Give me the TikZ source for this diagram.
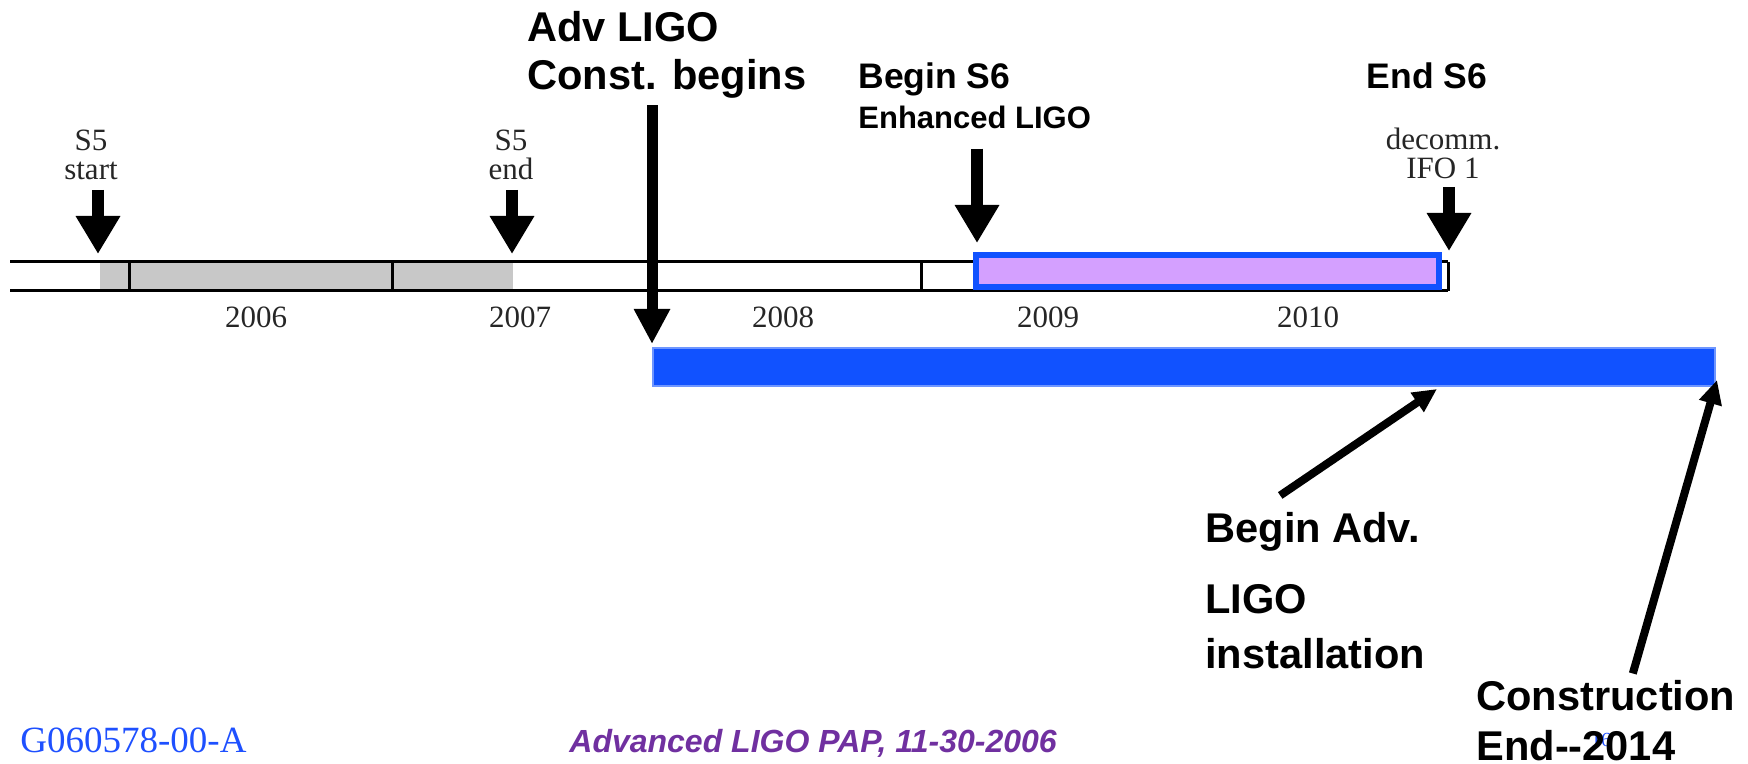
\documentclass[tikz,border=0pt]{standalone}
\usepackage{fontspec}
\setmainfont{Liberation Serif}
\setsansfont{Liberation Sans}
\usepackage{tikz}
\usetikzlibrary{arrows.meta,positioning,calc}
\definecolor{barblue}{RGB}{17,82,255}
\definecolor{baredge}{RGB}{110,150,255}
\definecolor{s6purple}{RGB}{212,160,255}
\definecolor{s5gray}{RGB}{200,200,200}
\definecolor{footblue}{RGB}{30,80,255}
\definecolor{footpurple}{RGB}{112,48,160}
\tikzset{
  tlline/.style={line width=1.5pt},
  tlyear/.style={font=\fontsize{15.5}{15}\selectfont, text=black!85, inner sep=0pt},
  tlnote/.style={font=\fontsize{15.5}{14.5}\selectfont, text=black!85, align=center, inner sep=0pt},
  tlbig/.style={font=\sffamily\bfseries\fontsize{20.8}{24}\selectfont, align=left, inner sep=0pt},
  tlmid/.style={font=\sffamily\bfseries\fontsize{17.75}{20}\selectfont, inner sep=0pt},
  tlsmall/.style={font=\sffamily\bfseries\fontsize{15.5}{18}\selectfont, inner sep=0pt},
  tlarrow/.style={-{Triangle[width=21pt,length=19pt]}, line width=6pt},
  tlbigarrow/.style={-{Triangle[width=17pt,length=17.5pt]}, line width=5.5pt},
  tlpointer/.style={-{Triangle[width=11pt,length=12pt]}, line width=4pt},
  s6box/.style={fill=s6purple, draw=barblue, line width=3pt},
  advbar/.style={fill=barblue, draw=baredge, line width=0.6pt}
}
\begin{document}
\begin{tikzpicture}[x=0.5pt,y=-0.5pt]
  \useasboundingbox (0,0) rectangle (1748,764);
  % timeline band with the S5 run shaded
  \fill[s5gray] (100,262) rectangle (513,291);
  \draw[tlline] (10,262) -- (1448,262);
  \draw[tlline] (10,291) -- (1448,291);
  \foreach \x in {129,392,655,921,1448}
    \draw[tlline] (\x,262) -- (\x,291);
  \foreach \yr/\x in {2006/256,2007/520,2008/783,2009/1048,2010/1308}
    \node[tlyear] (yr\yr) at (\x,317) {\yr};
  % S6 run and Adv LIGO installation
  \draw[s6box] (976,255) rectangle (1439,287);
  \draw[advbar] (653,348) rectangle (1715,386);
  % S5 markers
  \coordinate (s5starttip) at (98,254);
  \coordinate (s5endtip) at (512,254);
  \node[tlnote, anchor=south] (s5start) at (91,180) {S5\\start};
  \node[tlnote, anchor=south] (s5end) at (511,180) {S5\\end};
  \draw[tlarrow, shorten <=5pt] (s5start.south -| s5starttip) -- (s5starttip);
  \draw[tlarrow, shorten <=5pt] (s5end.south -| s5endtip) -- (s5endtip);
  % Adv LIGO construction start
  \coordinate (advtip) at (652,344);
  \node[tlbig, anchor=base west] (advconst) at (527,90) {Adv LIGO\\Const. begins};
  \draw[tlbigarrow, shorten <=3pt] (advconst.south -| advtip) -- (advtip);
  % S6 begin and end
  \coordinate (s6begintip) at (977,243);
  \coordinate (s6endtip) at (1449,251);
  \node[tlmid, anchor=base west] (begins6) at (858,89) {Begin S6};
  \node[tlsmall, anchor=base west] (enhligo) at (858,129) {Enhanced LIGO};
  \draw[tlarrow, shorten <=9.5pt] (enhligo.south -| s6begintip) -- (s6begintip);
  \node[tlmid, anchor=base] (ends6) at (1427,89) {End S6};
  \node[tlnote, anchor=south] (ifoone) at (1443,179) {decomm.\\IFO 1};
  \draw[tlarrow, shorten <=4pt] (ifoone.south -| s6endtip) -- (s6endtip);
  % installation and end of construction
  \coordinate (insttip) at (1437,389);
  \coordinate (constendtip) at (1717,380);
  \node[tlbig, anchor=base west] (advinst) at (1205,668) {Begin Adv.\\[11.5pt]LIGO\\[3.5pt]installation};
  \draw[tlpointer] ($(advinst.north)+(-35,-16)$) -- (insttip);
  \node[font=\fontsize{10}{12}\selectfont, text=footblue, inner sep=0pt] (pagenum) at (1601,740) {16};
  \node[tlbig, anchor=base west] (constend) at (1476,760) {Construction\\[1pt]End-{}-2014};
  \draw[tlpointer] ($(constend.north)+(27,-6)$) -- (constendtip);
  % footer
  \node[font=\fontsize{18.5}{20}\selectfont, text=footblue, anchor=base west, inner sep=0pt] (footid) at (20,752) {G060578-00-A};
  \node[font=\sffamily\bfseries\itshape\fontsize{16}{18}\selectfont, text=footpurple, anchor=base west, inner sep=0pt] (foottitle) at (569,752) {Advanced LIGO PAP, 11-30-2006};
\end{tikzpicture}
\end{document}
